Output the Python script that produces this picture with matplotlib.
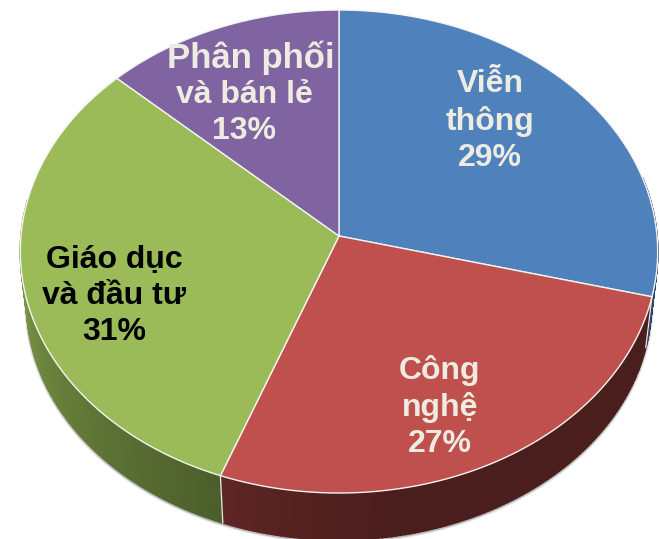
"""3D-looking pie of sector shares, drawn on a pixel canvas."""
import numpy as np
import matplotlib
matplotlib.use("Agg")
import matplotlib.pyplot as plt
from matplotlib.colors import to_rgb

labels = ["Viễn\nthông\n29%", "Công\nnghệ\n27%", "Giáo dục\nvà đầu tư\n31%", "và bán lẻ\n13%", "Phân phối"]
shares = [29, 26.7, 31.3, 13]
top_colors = ["#4f81bd", "#c0504d", "#9bbb59", "#8064a2"]
side_start = ["#2a4466", "#4a1e1d", "#4c5e2b", "#3f3151"]
side_end = ["#2a4466", "#5e2624", "#82a04a", "#3f3151"]
side_ramp_from = [0, 0.7, 0, 0]
text_colors = ["#eeece1", "#eeece1", "#000000", "#eeece1", "#eeece1"]
label_xy = [(490, 121), (440, 407), (114, 296), (244, 113), (251, 58)]
label_sizes = [23, 23, 23, 23, 25]

W, H = 659, 539
CX, CY = 339, 236
A, B, K = 318, 240.5, 0.0642
DROP, SHRINK = 52, 0.98


def rim(theta):
    # clockwise from 12 o'clock, small perspective so the front looks bigger
    x, y = np.sin(theta), np.cos(theta)
    d = 1 + K * y
    return A * x / d, -B * y / d


def rim_low(theta):
    x, y = rim(theta)
    return x * SHRINK, y * SHRINK + DROP


fig = plt.figure(figsize=(W / 100, H / 100), dpi=100)
ax = fig.add_axes([0, 0, 1, 1])
ax.set_xlim(0, W)
ax.set_ylim(H, 0)
ax.axis("off")

edges = np.cumsum([0] + shares) / sum(shares) * 2 * np.pi

# soft shadow around the lower edge
t = np.linspace(np.pi * 0.5, np.pi * 1.5, 300)
lx, ly = rim_low(t)
for w, c in [(3.5, "#e6e6e6"), (2, "#b8b8b8")]:
    ax.plot(CX + lx, CY + ly + 1, color=c, lw=w, zorder=1)

# side wall, only the part facing the viewer
for i in range(len(shares)):
    a0, a1 = max(edges[i], np.pi * 0.42), min(edges[i + 1], np.pi * 1.55)
    if a1 <= a0:
        continue
    n = 120
    ts = np.linspace(a0, a1, n + 1)
    c0, c1 = np.array(to_rgb(side_start[i])), np.array(to_rgb(side_end[i]))
    for j in range(n):
        f = np.clip((j / (n - 1) - side_ramp_from[i]) / (1 - side_ramp_from[i]), 0, 1)
        c = c0 + (c1 - c0) * f
        t2 = ts[j:j + 2]
        ux, uy = rim(t2)
        dx, dy = rim_low(t2[::-1])
        # same colour edge so no seams show between the strips
        ax.fill(CX + np.r_[ux, dx], CY + np.r_[uy, dy], facecolor=c, edgecolor=c, lw=1.2, zorder=2)
    # white seam between slices on the wall
    if edges[i] >= np.pi * 0.42:
        ux, uy = rim(edges[i])
        dx, dy = rim_low(edges[i])
        ax.plot([CX + ux, CX + dx], [CY + uy, CY + dy], color="#e8e8e8", lw=0.9, zorder=3)

# top face
for i in range(len(shares)):
    ts = np.linspace(edges[i], edges[i + 1], 200)
    x, y = rim(ts)
    ax.fill(CX + np.r_[0, x], CY + np.r_[0, y], facecolor=top_colors[i],
            edgecolor="#f4f4f4", lw=1.0, zorder=4, joinstyle="round")

for lab, (tx, ty), col, size in zip(labels, label_xy, text_colors, label_sizes):
    ax.text(tx, ty, lab, ha="center", va="center", color=col, fontsize=size,
            fontweight="bold", family="Liberation Sans", linespacing=1.27, zorder=5)

fig.savefig("out.png", dpi=100)
